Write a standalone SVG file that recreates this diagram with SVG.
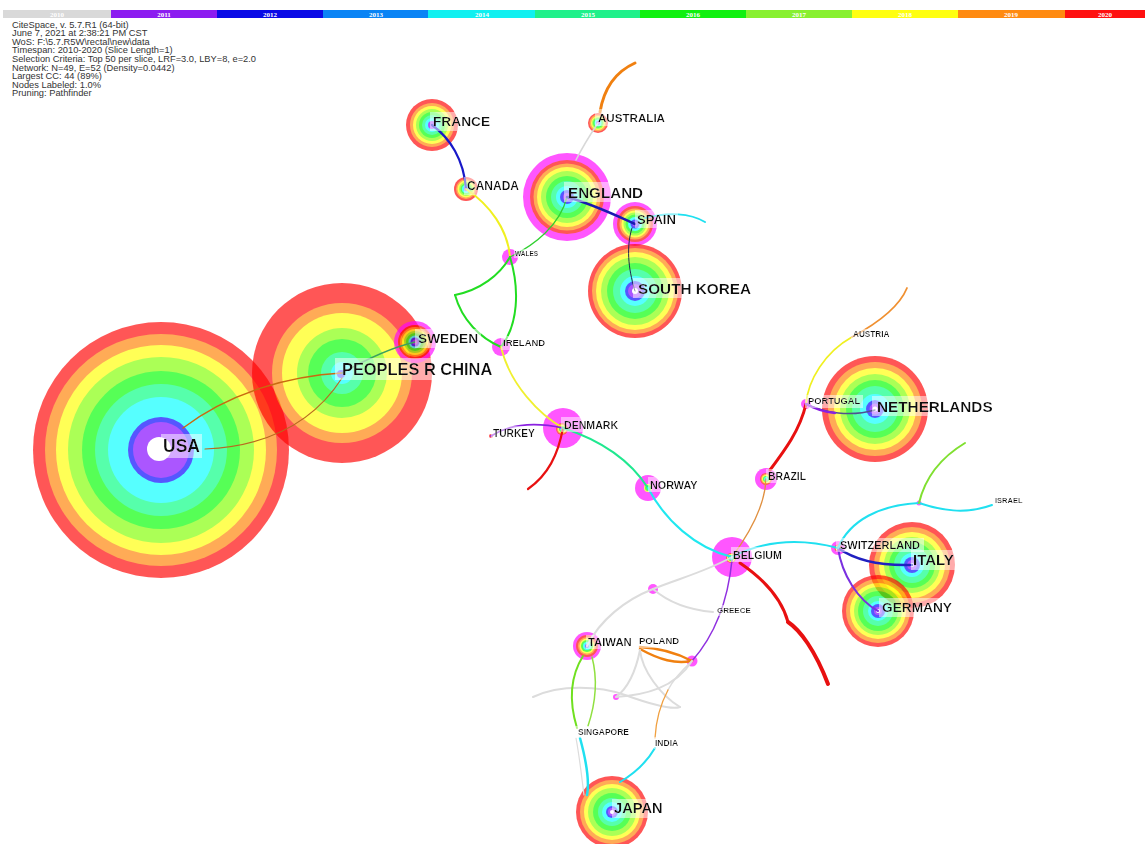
<svg xmlns="http://www.w3.org/2000/svg" width="1145" height="844" viewBox="0 0 1145 844">
<defs>
<style>
.h{font-family:"Liberation Sans",Arial,sans-serif;font-size:9.3px;fill:#333}
.yr{font-family:"Liberation Serif",serif;font-size:7px;font-weight:bold;fill:#fff;text-anchor:middle}
.t{font-family:"Liberation Sans",Arial,sans-serif;font-weight:bold;fill:#111;filter:url(#lb)}
.e{fill:none;stroke-linecap:round}
.n{opacity:.66}
.R{fill:#ff0000}.O{fill:#ff8000}.Y{fill:#ffff00}.LG{fill:#80ff00}.G{fill:#00ff00}.M{fill:#00ff80}.C{fill:#00ffff}.A{fill:#0080ff}.B{fill:#0000ff}.P{fill:#8000ff}.W{fill:#ffffff}.K{fill:#ff00ff}
</style>
<filter id="lb" x="-0.04" y="-0.08" width="1.08" height="1.16"><feFlood flood-color="#fff" flood-opacity="0.5"/><feMerge><feMergeNode/><feMergeNode in="SourceGraphic"/></feMerge></filter>
</defs>
<rect width="1145" height="844" fill="#fff"/>

<g id="timeline">
<rect x="3" y="10" width="108" height="8" fill="#d9d9d9"/>
<rect x="111" y="10" width="106" height="8" fill="#8c1cf0"/>
<rect x="217" y="10" width="106" height="8" fill="#0a0ae6"/>
<rect x="323" y="10" width="105" height="8" fill="#0a84f5"/>
<rect x="428" y="10" width="107" height="8" fill="#10f0f0"/>
<rect x="535" y="10" width="105" height="8" fill="#20f08a"/>
<rect x="640" y="10" width="106" height="8" fill="#10f010"/>
<rect x="746" y="10" width="106" height="8" fill="#88f030"/>
<rect x="852" y="10" width="106" height="8" fill="#ffff10"/>
<rect x="958" y="10" width="107" height="8" fill="#ff8a10"/>
<rect x="1065" y="10" width="80" height="8" fill="#ff1010"/>
<text class="yr" x="57" y="16.5">2010</text>
<text class="yr" x="164" y="16.5">2011</text>
<text class="yr" x="270" y="16.5">2012</text>
<text class="yr" x="376" y="16.5">2013</text>
<text class="yr" x="482" y="16.5">2014</text>
<text class="yr" x="588" y="16.5">2015</text>
<text class="yr" x="693" y="16.5">2016</text>
<text class="yr" x="799" y="16.5">2017</text>
<text class="yr" x="905" y="16.5">2018</text>
<text class="yr" x="1011" y="16.5">2019</text>
<text class="yr" x="1105" y="16.5">2020</text>
</g>

<g id="header">
<text class="h" x="12" y="27.5">CiteSpace, v. 5.7.R1 (64-bit)</text>
<text class="h" x="12" y="36.1">June 7, 2021 at 2:38:21 PM CST</text>
<text class="h" x="12" y="44.7">WoS: F:\5.7.R5W\rectal\new\data</text>
<text class="h" x="12" y="53.3">Timespan: 2010-2020 (Slice Length=1)</text>
<text class="h" x="12" y="61.9">Selection Criteria: Top 50 per slice, LRF=3.0, LBY=8, e=2.0</text>
<text class="h" x="12" y="70.5">Network: N=49, E=52 (Density=0.0442)</text>
<text class="h" x="12" y="79.1">Largest CC: 44 (89%)</text>
<text class="h" x="12" y="87.7">Nodes Labeled: 1.0%</text>
<text class="h" x="12" y="96.3">Pruning: Pathfinder</text>
</g>

<g id="nodes">
<g id="node-usa" class="n">
<circle cx="161" cy="450" r="128" class="R"/><circle cx="161" cy="450" r="116" class="O"/><circle cx="161" cy="450" r="105" class="Y"/><circle cx="161" cy="450" r="93" class="LG"/><circle cx="161" cy="450" r="79" class="G"/><circle cx="161" cy="450" r="66" class="M"/><circle cx="161" cy="450" r="53" class="C"/><circle cx="161" cy="450" r="33" class="B"/><circle cx="161" cy="450" r="28" class="P"/><circle cx="159" cy="449" r="12" class="W"/>
</g>
<g id="node-china" class="n">
<circle cx="342" cy="373" r="90" class="R"/><circle cx="342" cy="373" r="70" class="O"/><circle cx="342" cy="373" r="60" class="Y"/><circle cx="342" cy="373" r="45" class="LG"/><circle cx="342" cy="373" r="34" class="G"/><circle cx="342" cy="373" r="21" class="M"/><circle cx="342" cy="373" r="11" class="C"/><circle cx="341" cy="374" r="4" class="B"/>
</g>
<g id="node-france" class="n">
<circle cx="432" cy="125" r="26" class="R"/><circle cx="432" cy="125" r="22" class="O"/><circle cx="432" cy="125" r="19" class="Y"/><circle cx="432" cy="125" r="16" class="LG"/><circle cx="432" cy="125" r="13" class="G"/><circle cx="432" cy="125" r="10" class="M"/><circle cx="432" cy="125" r="7" class="C"/><circle cx="432" cy="125" r="4" class="P"/>
</g>
<g id="node-canada" class="n">
<circle cx="466" cy="189" r="12" class="R"/><circle cx="466" cy="189" r="10" class="O"/><circle cx="466" cy="189" r="8.5" class="Y"/><circle cx="466" cy="189" r="7" class="LG"/><circle cx="466" cy="189" r="5.5" class="G"/><circle cx="466" cy="189" r="4" class="C"/><circle cx="466" cy="189" r="2.2" class="P"/>
</g>
<g id="node-australia" class="n">
<circle cx="598" cy="123" r="10" class="R"/><circle cx="598" cy="123" r="8.5" class="O"/><circle cx="598" cy="123" r="7" class="Y"/><circle cx="598" cy="123" r="6" class="LG"/><circle cx="598" cy="123" r="5" class="G"/><circle cx="598" cy="123" r="3.5" class="C"/><circle cx="598" cy="123" r="2" class="P"/>
</g>
<g id="node-england" class="n">
<circle cx="567" cy="197" r="44" class="K"/><circle cx="567" cy="197" r="37" class="R"/><circle cx="567" cy="197" r="33.5" class="O"/><circle cx="567" cy="197" r="30" class="Y"/><circle cx="567" cy="197" r="26" class="LG"/><circle cx="567" cy="197" r="21" class="G"/><circle cx="567" cy="197" r="16" class="M"/><circle cx="567" cy="197" r="11" class="C"/><circle cx="567" cy="197" r="7" class="B"/><circle cx="567" cy="197" r="4" class="P"/>
</g>
<g id="node-spain" class="n">
<circle cx="635" cy="224" r="22" class="K"/><circle cx="635" cy="224" r="18" class="R"/><circle cx="635" cy="224" r="15.5" class="O"/><circle cx="635" cy="224" r="13.5" class="Y"/><circle cx="635" cy="224" r="11.5" class="LG"/><circle cx="635" cy="224" r="9.5" class="G"/><circle cx="635" cy="224" r="7" class="C"/><circle cx="635" cy="224" r="4.5" class="B"/><circle cx="635" cy="224" r="2.5" class="P"/>
</g>
<g id="node-south-korea" class="n">
<circle cx="635" cy="291" r="47" class="R"/><circle cx="635" cy="291" r="43" class="O"/><circle cx="635" cy="291" r="39" class="Y"/><circle cx="635" cy="291" r="34" class="LG"/><circle cx="635" cy="291" r="28" class="G"/><circle cx="635" cy="291" r="22" class="M"/><circle cx="635" cy="291" r="15" class="C"/><circle cx="635" cy="291" r="10" class="B"/><circle cx="635" cy="291" r="7" class="P"/><circle cx="635" cy="291" r="3" class="W"/>
</g>
<g id="node-sweden" class="n">
<circle cx="415" cy="342" r="21" class="K"/><circle cx="415" cy="342" r="17" class="R"/><circle cx="415" cy="342" r="15" class="O"/><circle cx="415" cy="342" r="13" class="Y"/><circle cx="415" cy="342" r="11" class="LG"/><circle cx="415" cy="342" r="9" class="G"/><circle cx="415" cy="342" r="6.5" class="C"/><circle cx="415" cy="342" r="4.5" class="B"/><circle cx="415" cy="342" r="2.5" class="P"/>
</g>
<g id="node-wales" class="n"><circle cx="510" cy="257" r="8" class="K"/></g>
<g id="node-ireland" class="n"><circle cx="501" cy="347" r="9" class="K"/></g>
<g id="node-denmark" class="n">
<circle cx="563" cy="428" r="20" class="K"/><circle cx="562" cy="429" r="6" class="R"/><circle cx="562" cy="429" r="5" class="O"/><circle cx="562" cy="429" r="4" class="Y"/><circle cx="562" cy="429" r="3" class="G"/><circle cx="562" cy="429" r="2" class="C"/>
</g>
<g id="node-turkey" class="n"><circle cx="491" cy="436" r="2" class="R"/></g>
<g id="node-norway" class="n">
<circle cx="648" cy="488" r="13" class="K"/><circle cx="648" cy="488" r="4" class="Y"/><circle cx="648" cy="488" r="3" class="G"/>
</g>
<g id="node-belgium" class="n">
<circle cx="732" cy="557" r="20" class="K"/><circle cx="731" cy="558" r="5" class="R"/><circle cx="731" cy="558" r="4" class="Y"/><circle cx="731" cy="558" r="3" class="G"/><circle cx="731" cy="558" r="2" class="C"/>
</g>
<g id="node-brazil" class="n">
<circle cx="766" cy="479" r="11" class="K"/><circle cx="766" cy="479" r="6" class="R"/><circle cx="766" cy="479" r="5" class="O"/><circle cx="766" cy="479" r="4" class="Y"/><circle cx="766" cy="479" r="3" class="G"/><circle cx="766" cy="479" r="2" class="C"/>
</g>
<g id="node-netherlands" class="n">
<circle cx="875" cy="409" r="53" class="R"/><circle cx="875" cy="409" r="47" class="O"/><circle cx="875" cy="409" r="41" class="Y"/><circle cx="875" cy="409" r="35" class="LG"/><circle cx="875" cy="409" r="29" class="G"/><circle cx="875" cy="409" r="23" class="M"/><circle cx="875" cy="409" r="15" class="C"/><circle cx="875" cy="409" r="9" class="B"/><circle cx="875" cy="409" r="5.5" class="P"/><circle cx="875" cy="409" r="2.5" class="W"/>
</g>
<g id="node-portugal" class="n"><circle cx="806" cy="404" r="5" class="K"/></g>
<g id="node-switzerland" class="n">
<circle cx="838" cy="548" r="7" class="K"/><circle cx="838" cy="548" r="3.5" class="R"/><circle cx="838" cy="548" r="2.5" class="Y"/><circle cx="838" cy="548" r="1.5" class="G"/>
</g>
<g id="node-italy" class="n">
<circle cx="912" cy="565" r="43" class="R"/><circle cx="912" cy="565" r="38" class="O"/><circle cx="912" cy="565" r="33" class="Y"/><circle cx="912" cy="565" r="28" class="LG"/><circle cx="912" cy="565" r="23" class="G"/><circle cx="912" cy="565" r="18" class="M"/><circle cx="912" cy="565" r="12" class="C"/><circle cx="912" cy="565" r="8" class="B"/><circle cx="912" cy="565" r="5" class="P"/><circle cx="912" cy="565" r="2" class="W"/>
</g>
<g id="node-germany" class="n">
<circle cx="878" cy="611" r="36" class="R"/><circle cx="878" cy="611" r="32" class="O"/><circle cx="878" cy="611" r="28" class="Y"/><circle cx="878" cy="611" r="24" class="LG"/><circle cx="878" cy="611" r="20" class="G"/><circle cx="878" cy="611" r="15" class="M"/><circle cx="878" cy="611" r="10" class="C"/><circle cx="878" cy="611" r="7" class="B"/><circle cx="878" cy="611" r="4" class="P"/><circle cx="878" cy="611" r="2" class="W"/>
</g>
<g id="node-taiwan" class="n">
<circle cx="587" cy="646" r="14" class="K"/><circle cx="587" cy="646" r="11" class="R"/><circle cx="587" cy="646" r="9" class="O"/><circle cx="587" cy="646" r="7.5" class="Y"/><circle cx="587" cy="646" r="6" class="G"/><circle cx="587" cy="646" r="4" class="C"/><circle cx="587" cy="646" r="2" class="P"/>
</g>
<g id="node-japan" class="n">
<circle cx="612" cy="812" r="36" class="R"/><circle cx="612" cy="812" r="32" class="O"/><circle cx="612" cy="812" r="28" class="Y"/><circle cx="612" cy="812" r="24" class="LG"/><circle cx="612" cy="812" r="19" class="G"/><circle cx="612" cy="812" r="14" class="M"/><circle cx="612" cy="812" r="10" class="C"/><circle cx="612" cy="812" r="6" class="B"/><circle cx="612" cy="812" r="4" class="P"/><circle cx="612" cy="812" r="2" class="W"/>
</g>
<g id="node-x1" class="n"><circle cx="653" cy="589" r="5" class="K"/></g>
<g id="node-x2" class="n"><circle cx="692" cy="661" r="5.5" class="K"/></g>
<g id="node-x3" class="n"><circle cx="616" cy="697" r="3" class="K"/></g>
<g id="node-x4" class="n"><circle cx="919" cy="503" r="2.5" class="K"/></g>
</g>

<g id="connectors">
<path class="e" d="M183,428 C230,392 290,376 342,373" stroke="#c86a10" stroke-width="1.4"/>
<path class="e" d="M205,449 C270,446 315,420 342,378" stroke="#b86a20" stroke-width="1.2"/>
<path class="e" d="M342,373 C365,360 390,348 415,342" stroke="#3aa060" stroke-width="1.3"/>
<path class="e" d="M432,125 C450,138 464,160 466,189" stroke="#1818c8" stroke-width="2.2"/>
<path class="e" d="M466,189 C490,205 508,230 510,257" stroke="#f0f020" stroke-width="2"/>
<path class="e" d="M510,257 C535,245 560,225 567,197" stroke="#30d030" stroke-width="1.2"/>
<path class="e" d="M510,257 C500,275 480,290 455,295" stroke="#22dd22" stroke-width="2"/>
<path class="e" d="M455,295 C462,320 480,338 501,347" stroke="#22dd22" stroke-width="2"/>
<path class="e" d="M510,257 C520,290 518,325 501,347" stroke="#22dd22" stroke-width="2"/>
<path class="e" d="M501,347 C510,385 540,415 563,428" stroke="#f0f030" stroke-width="1.8"/>
<path class="e" d="M567,197 C595,205 615,215 635,224" stroke="#1a1ab0" stroke-width="2.5"/>
<path class="e" d="M645,218 C668,212 690,213 705,222" stroke="#20e0f0" stroke-width="2"/>
<path class="e" d="M632,228 C625,250 630,275 635,291" stroke="#202850" stroke-width="1"/>
<path class="e" d="M576,160 C582,148 590,135 598,123" stroke="#d8d8d8" stroke-width="1.5"/>
<path class="e" d="M600,112 C604,88 615,72 635,63" stroke="#f08010" stroke-width="3"/>
<path class="e" d="M491,436 C510,424 535,422 563,428" stroke="#8a20e0" stroke-width="1.8"/>
<path class="e" d="M563,428 C558,455 548,475 528,489" stroke="#e81010" stroke-width="2.2"/>
<path class="e" d="M563,428 C600,440 630,460 648,488" stroke="#20e890" stroke-width="2"/>
<path class="e" d="M648,488 C665,520 695,548 732,557" stroke="#20e8f0" stroke-width="2"/>
<path class="e" d="M732,557 C752,530 765,505 766,479" stroke="#e09040" stroke-width="1.3"/>
<path class="e" d="M770,470 C785,450 800,430 806,404" stroke="#e81010" stroke-width="3"/>
<path class="e" d="M806,404 C808,380 825,352 852,337" stroke="#f0f020" stroke-width="1.8"/>
<path class="e" d="M852,337 C880,322 900,305 907,288" stroke="#f09030" stroke-width="1.8"/>
<path class="e" d="M806,404 C825,413 850,417 875,410" stroke="#505090" stroke-width="1.4"/>
<path class="e" d="M806,404 C815,409 825,412 835,413" stroke="#8a20e0" stroke-width="2.5"/>
<path class="e" d="M732,557 C765,540 800,538 838,548" stroke="#20e0f0" stroke-width="2"/>
<path class="e" d="M740,563 C765,580 782,600 788,622" stroke="#e81010" stroke-width="3"/>
<path class="e" d="M788,622 C800,630 815,650 828,684" stroke="#e81010" stroke-width="4"/>
<path class="e" d="M732,557 C705,572 680,578 653,589" stroke="#dcdcdc" stroke-width="2"/>
<path class="e" d="M653,589 C668,602 690,610 713,612" stroke="#dcdcdc" stroke-width="2"/>
<path class="e" d="M653,589 C625,600 600,620 587,646" stroke="#dcdcdc" stroke-width="2"/>
<path class="e" d="M732,560 C728,600 715,635 692,661" stroke="#9030e0" stroke-width="1.5"/>
<path class="e" d="M640,647 C658,648 675,652 692,661" stroke="#f08010" stroke-width="2.5"/>
<path class="e" d="M640,649 C660,660 675,664 692,661" stroke="#f08010" stroke-width="2.5"/>
<path class="e" d="M533,697 C560,684 600,686 625,695 C650,704 672,710 680,707" stroke="#dcdcdc" stroke-width="2"/>
<path class="e" d="M640,650 C642,670 660,695 680,707" stroke="#dcdcdc" stroke-width="2"/>
<path class="e" d="M640,650 C636,670 628,688 616,697" stroke="#dcdcdc" stroke-width="2"/>
<path class="e" d="M616,697 C645,695 675,688 692,661" stroke="#dcdcdc" stroke-width="2"/>
<path class="e" d="M692,661 C680,672 672,682 668,690" stroke="#dcdcdc" stroke-width="1.5"/>
<path class="e" d="M668,690 C660,705 656,720 655,738" stroke="#f0a040" stroke-width="1.3"/>
<path class="e" d="M655,748 C645,765 632,775 620,782" stroke="#20e0f0" stroke-width="2"/>
<path class="e" d="M583,656 C568,680 570,705 577,728" stroke="#70e020" stroke-width="2"/>
<path class="e" d="M592,657 C598,680 595,705 588,726" stroke="#90e040" stroke-width="1.5"/>
<path class="e" d="M576,738 C580,760 582,780 584,795" stroke="#dcdcdc" stroke-width="1.2"/>
<path class="e" d="M580,738 C586,760 590,780 587,795" stroke="#20e0f0" stroke-width="2.5"/>
<path class="e" d="M838,548 C855,560 880,566 912,565" stroke="#2020c0" stroke-width="2.5"/>
<path class="e" d="M838,548 C842,575 858,600 878,611" stroke="#7a30e0" stroke-width="2"/>
<path class="e" d="M838,548 C850,520 880,505 919,503" stroke="#20e0f0" stroke-width="2"/>
<path class="e" d="M919,503 C940,510 965,515 992,505" stroke="#20e0f0" stroke-width="2"/>
<path class="e" d="M919,503 C925,478 940,458 965,443" stroke="#80e030" stroke-width="2"/>
</g>

<g id="labels">
<text class="t" x="163" y="452" font-size="17.5">USA</text>
<text class="t" x="342" y="375" font-size="16.4">PEOPLES R CHINA</text>
<text class="t" x="418" y="343" font-size="13.7">SWEDEN</text>
<text class="t" x="433" y="126" font-size="13.7">FRANCE</text>
<text class="t" x="467" y="190" font-size="12">CANADA</text>
<text class="t" x="568" y="197.5" font-size="15.2">ENGLAND</text>
<text class="t" x="637" y="223.7" font-size="13">SPAIN</text>
<text class="t" x="638" y="293.5" font-size="15.3">SOUTH KOREA</text>
<text class="t" x="598" y="122" font-size="11.6">AUSTRALIA</text>
<text class="t" x="515" y="256.3" font-size="6.5">WALES</text>
<text class="t" x="503" y="346.4" font-size="9.5">IRELAND</text>
<text class="t" x="564" y="428.8" font-size="10.6">DENMARK</text>
<text class="t" x="493" y="436.7" font-size="10.2">TURKEY</text>
<text class="t" x="650" y="488.9" font-size="10.8">NORWAY</text>
<text class="t" x="733" y="558.8" font-size="10.6">BELGIUM</text>
<text class="t" x="768" y="479.7" font-size="10.4">BRAZIL</text>
<text class="t" x="840" y="549" font-size="11">SWITZERLAND</text>
<text class="t" x="913" y="565.4" font-size="15">ITALY</text>
<text class="t" x="882" y="612" font-size="13.7">GERMANY</text>
<text class="t" x="717" y="612.9" font-size="8">GREECE</text>
<text class="t" x="877" y="411.5" font-size="15.3">NETHERLANDS</text>
<text class="t" x="808" y="404.3" font-size="9.3">PORTUGAL</text>
<text class="t" x="853" y="337" font-size="8.2">AUSTRIA</text>
<text class="t" x="995" y="502.7" font-size="7.5">ISRAEL</text>
<text class="t" x="588" y="646" font-size="11.3">TAIWAN</text>
<text class="t" x="639" y="644.4" font-size="9.5">POLAND</text>
<text class="t" x="578" y="735" font-size="8.5">SINGAPORE</text>
<text class="t" x="655" y="746" font-size="8.5">INDIA</text>
<text class="t" x="614" y="813.3" font-size="14.7">JAPAN</text>
</g>
</svg>
